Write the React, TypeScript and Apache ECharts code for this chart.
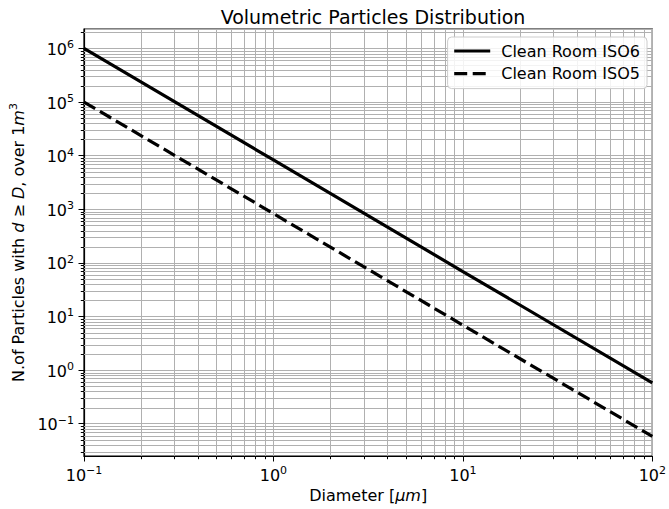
import React, { useEffect, useRef } from "react";
import * as echarts from "echarts";

// Particle diameter (µm) at each decade
const diameters = [0.1, 1, 10, 100];
// Max particle concentration (particles/m³ with d ≥ D)
const iso6 = [1000000, 8300, 69, 0.58];
const iso5 = [100000, 830, 6.9, 0.058];

const seriesNames = ["Clean Room ISO6", "Clean Room ISO5"];

// Axis extents
const xMin = 0.1;
const xMax = 100;
const yMin = 0.025;
const yMax = 2300000;

// Minor log ticks: mantissas 2..9 in every decade
const minorMantissas = [2, 3, 4, 5, 6, 7, 8, 9];
const xDecades = [-1, 0, 1];
const yDecades = [-2, -1, 0, 1, 2, 3, 4, 5, 6];

const FONT = "DejaVu Sans";
const GRID_COLOR = "#b0b0b0";
const LINE_W = 3.2;

function minorValues(decades: number[], lo: number, hi: number): number[] {
  const out: number[] = [];
  decades.forEach((e) => {
    minorMantissas.forEach((m) => {
      const v = m * Math.pow(10, e);
      if (v >= lo && v <= hi) out.push(v);
    });
  });
  return out;
}

function powerLabel(v: number): string {
  const e = Math.round(Math.log10(v));
  const s = e < 0 ? "\u2212" + Math.abs(e) : String(e);
  return `{b|10}{s|${s}}`;
}

const labelRich = {
  b: { fontSize: 16, fontFamily: FONT, color: "#000", verticalAlign: "bottom" },
  s: {
    fontSize: 11,
    fontFamily: FONT,
    color: "#000",
    verticalAlign: "bottom",
    padding: [0, 0, 7, 0],
  },
};

export default function App() {
  const ref = useRef<HTMLDivElement>(null);

  useEffect(() => {
    if (!ref.current) return;
    const chart = echarts.init(ref.current, undefined, { renderer: "svg" });

    const xMinor = minorValues(xDecades, xMin, xMax);
    const yMinor = minorValues(yDecades, yMin, yMax);

    const option: any = {
      animation: false,
      backgroundColor: "#fff",
      title: {
        text: "Volumetric Particles Distribution",
        left: 368,
        textAlign: "center",
        top: 2,
        textStyle: {
          fontFamily: FONT,
          fontSize: 19,
          fontWeight: "normal",
          color: "#000",
        },
      },
      legend: {
        data: seriesNames,
        orient: "vertical",
        right: 22,
        top: 37,
        itemWidth: 36,
        itemHeight: 16,
        itemGap: 6.6,
        padding: [6, 7, 7, 5],
        itemStyle: { opacity: 0 },
        lineStyle: { width: LINE_W },
        backgroundColor: "rgba(255,255,255,0.85)",
        borderColor: "#cccccc",
        borderWidth: 1,
        borderRadius: 4,
        textStyle: { fontFamily: FONT, fontSize: 16, color: "#000", padding: [0, 0, 0, 6] },
      },
      grid: {
        left: 81,
        right: 14,
        top: 29,
        bottom: 53,
        show: true,
        borderColor: "#000",
        borderWidth: 1.2,
        backgroundColor: "transparent",
      },
      xAxis: {
        type: "log",
        logBase: 10,
        min: xMin,
        max: xMax,
        name: "Diameter [{i|\u03bcm}]",
        nameLocation: "middle",
        nameGap: 31,
        nameTextStyle: {
          fontFamily: FONT,
          fontSize: 16,
          color: "#000",
          rich: { i: { fontFamily: FONT, fontSize: 16, fontStyle: "italic", color: "#000" } },
        },
        axisLine: { show: true, lineStyle: { color: "#000", width: 1.2 } },
        axisTick: { show: true, length: 5.5, lineStyle: { color: "#000", width: 1 } },
        axisLabel: {
          formatter: powerLabel,
          rich: labelRich,
          margin: 9,
          showMinLabel: true,
          showMaxLabel: true,
        },
        splitLine: { show: true, lineStyle: { color: GRID_COLOR, width: 1 } },
      },
      yAxis: {
        type: "log",
        logBase: 10,
        min: yMin,
        max: yMax,
        name: "N.of Particles with {i|d} \u2265 {i|D}, over 1{i|m}{sup|3}",
        nameLocation: "middle",
        nameGap: 56,
        nameTextStyle: {
          fontFamily: FONT,
          fontSize: 16,
          color: "#000",
          rich: {
            i: { fontFamily: FONT, fontSize: 16, fontStyle: "italic", color: "#000" },
            sup: { fontFamily: FONT, fontSize: 11, color: "#000", padding: [0, 0, 9, 0] },
          },
        },
        axisLine: { show: true, lineStyle: { color: "#000", width: 1.2 } },
        axisTick: { show: true, length: 5.5, lineStyle: { color: "#000", width: 1 } },
        axisLabel: {
          formatter: (v: number) => {
            const lg = Math.log10(v);
            if (Math.abs(lg - Math.round(lg)) > 1e-6) return "";
            return powerLabel(v);
          },
          rich: labelRich,
          margin: 10,
          showMinLabel: false,
          showMaxLabel: false,
        },
        splitLine: { show: true, lineStyle: { color: GRID_COLOR, width: 1 } },
      },
      series: [
        {
          type: "custom",
          silent: true,
          z: 1,
          clip: false,
          data: xMinor.map((v) => [v, 1]),
          renderItem: (params: any, api: any) => {
            const cs = params.coordSys;
            const x = Math.round(api.coord([api.value(0), 1])[0]) + 0.5;
            const bottom = cs.y + cs.height;
            return {
              type: "group",
              children: [
                {
                  type: "line",
                  shape: { x1: x, y1: cs.y, x2: x, y2: bottom },
                  style: { stroke: GRID_COLOR, lineWidth: 1 },
                },
                {
                  type: "line",
                  shape: { x1: x, y1: bottom, x2: x, y2: bottom + 3.2 },
                  style: { stroke: "#000", lineWidth: 1 },
                },
              ],
            };
          },
        },
        {
          type: "custom",
          silent: true,
          z: 1,
          clip: false,
          data: yMinor.map((v) => [1, v]),
          renderItem: (params: any, api: any) => {
            const cs = params.coordSys;
            const y = Math.round(api.coord([1, api.value(1)])[1]) + 0.5;
            return {
              type: "group",
              children: [
                {
                  type: "line",
                  shape: { x1: cs.x, y1: y, x2: cs.x + cs.width, y2: y },
                  style: { stroke: GRID_COLOR, lineWidth: 1 },
                },
                {
                  type: "line",
                  shape: { x1: cs.x - 3.2, y1: y, x2: cs.x, y2: y },
                  style: { stroke: "#000", lineWidth: 1 },
                },
              ],
            };
          },
        },
        {
          name: seriesNames[0],
          type: "line",
          z: 3,
          symbol: "none",
          data: diameters.map((d, i) => [d, iso6[i]]),
          lineStyle: { color: "#000", width: LINE_W, type: "solid" },
          itemStyle: { color: "#000" },
        },
        {
          name: seriesNames[1],
          type: "line",
          z: 3,
          symbol: "none",
          data: diameters.map((d, i) => [d, iso5[i]]),
          lineStyle: { color: "#000", width: LINE_W, type: [13, 5.5] },
          itemStyle: { color: "#000" },
        },
      ],
    };

    chart.setOption(option);
    return () => chart.dispose();
  }, []);

  return (
    <div
      ref={ref}
      style={{ position: "fixed", left: 0, top: 0, width: 669, height: 509 }}
    />
  );
}
